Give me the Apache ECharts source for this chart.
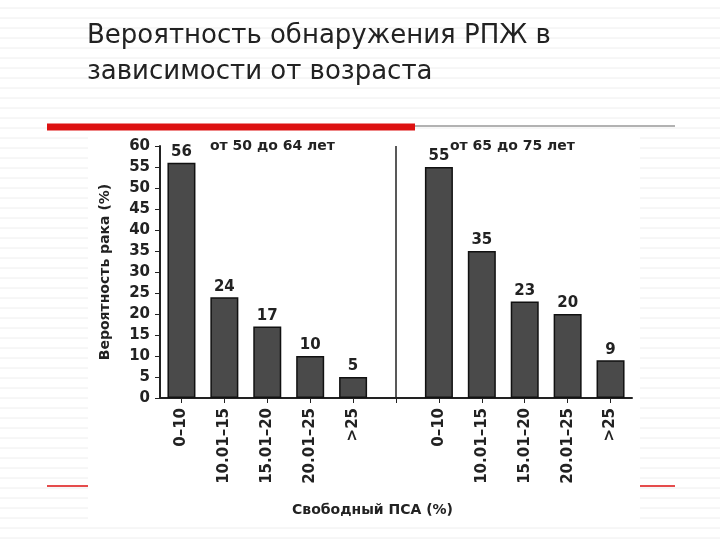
<!DOCTYPE html>
<html><head><meta charset="utf-8">
<script src="https://cdn.jsdelivr.net/npm/echarts@6/dist/echarts.min.js"></script>
<style>html,body{margin:0;padding:0;background:#fff}#c{width:720px;height:540px}</style>
</head><body><div id="c"></div>
<script>
const categories = ['0–10','10.01–15','15.01–20','20.01–25','>25'];
const group1 = [56,24,17,10,5];
const group2 = [55,35,23,20,9];
const yTicks = [0,5,10,15,20,25,30,35,40,45,50,55,60];
const groupNames = ['от 50 до 64 лет','от 65 до 75 лет'];

const cats = categories.concat([' '], categories.map(c => c + '\u200b'));
const vals = group1.concat(['-'], group2);

const chart = echarts.init(document.getElementById('c'));
const bg = [];
for (let y = 8; y < 540; y += 10) bg.push({type:'line',shape:{x1:0,y1:y,x2:720,y2:y},style:{stroke:'#eeeeee',lineWidth:1},z:-10});
chart.setOption({
  animation:false,
  textStyle:{fontFamily:'DejaVu Sans'},
  graphic: bg.concat([
    {type:'rect',shape:{x:88,y:134,width:552,height:392},style:{fill:'#fff'},z:-5},
    {type:'text',left:87,top:18,style:{text:'Вероятность обнаружения РПЖ в\nзависимости от возраста',font:'26px DejaVu Sans',fill:'#222',lineHeight:36}},
    {type:'line',shape:{x1:47,y1:127,x2:415,y2:127},style:{stroke:'#d11',lineWidth:7}},
    {type:'line',shape:{x1:415,y1:126,x2:675,y2:126},style:{stroke:'#999',lineWidth:1.5}},
    {type:'line',shape:{x1:47,y1:486,x2:88,y2:486},style:{stroke:'#d11',lineWidth:1.5}},
    {type:'line',shape:{x1:640,y1:486,x2:675,y2:486},style:{stroke:'#d11',lineWidth:1.5}},
    {type:'text',left:210,top:139,style:{text:groupNames[0],font:'bold 14px DejaVu Sans',fill:'#222'}},
    {type:'text',left:450,top:139,style:{text:groupNames[1],font:'bold 14px DejaVu Sans',fill:'#222'}},
    {type:'text',left:292,top:503,style:{text:'Свободный ПСА (%)',font:'bold 14px DejaVu Sans',fill:'#222'}}
  ]),
  grid:{left:160,right:88,top:146,bottom:142,containLabel:false},
  xAxis:{type:'category',data:cats,
    axisLine:{lineStyle:{color:'#222',width:2}},
    axisTick:{show:true,alignWithLabel:true,length:5,lineStyle:{color:'#222'}},
    axisLabel:{rotate:90,color:'#222',fontSize:15,fontWeight:'bold',interval:0,margin:10,
      formatter:v=>v.replace('\u200b','')}},
  yAxis:{type:'value',min:0,max:60,interval:5,
    name:'Вероятность рака (%)',nameLocation:'middle',nameGap:48,nameRotate:90,
    nameTextStyle:{fontSize:14,fontWeight:'bold',color:'#222'},
    axisLine:{show:true,lineStyle:{color:'#222',width:2}},
    axisTick:{show:true,length:5,lineStyle:{color:'#222'}},
    splitLine:{show:false},
    axisLabel:{color:'#222',fontSize:15,fontWeight:'bold',margin:10}},
  series:[{type:'bar',data:vals,barWidth:28,
    itemStyle:{color:'#4a4a4a',borderColor:'#111',borderWidth:1.5},
    label:{show:true,position:'top',color:'#222',fontSize:15,fontWeight:'bold',distance:3},
    markLine:{symbol:'none',silent:true,label:{show:false},lineStyle:{color:'#222',width:1.5,type:'solid'},
      data:[[{xAxis:' ',y:146},{xAxis:' ',y:398}]]}
  }]
});
</script></body></html>
